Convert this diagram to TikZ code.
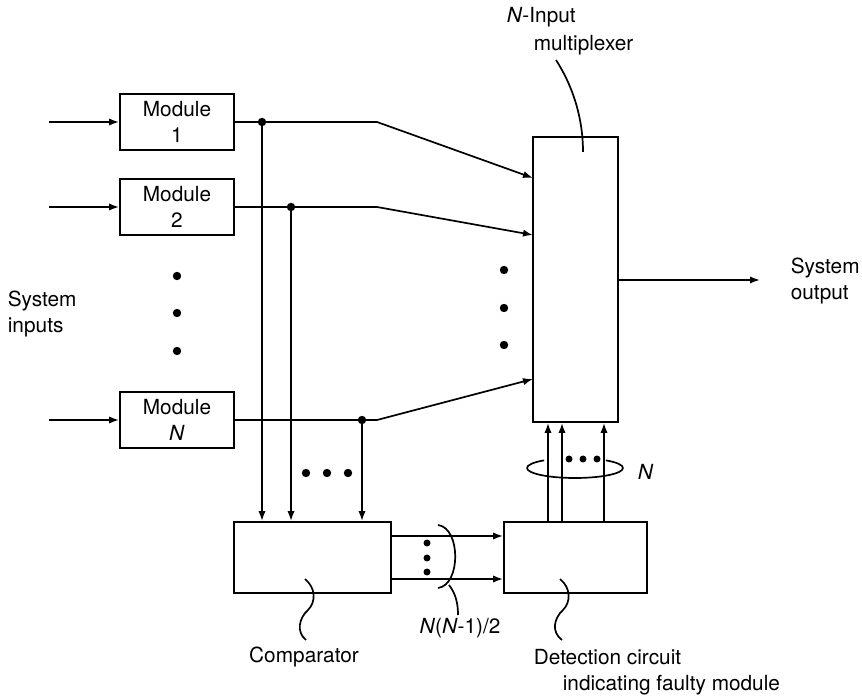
\documentclass[tikz,border=0pt]{standalone}
\usepackage{fontspec}
\setmainfont{TeX Gyre Heros}
\usetikzlibrary{arrows.meta}
\begin{document}
\begin{tikzpicture}[x=0.5pt,y=-0.5pt, line width=0.85pt,
  font=\fontsize{10.4}{13}\selectfont,
  box/.style={draw, inner sep=0pt, align=center},
  modbox/.style={box, minimum width=57pt, minimum height=28pt},
  arr/.style={-{Latex[length=5pt,width=3.6pt]}},
  bigdot/.style={circle, fill, inner sep=0pt, minimum size=4.2pt},
  smalldot/.style={circle, fill, inner sep=0pt, minimum size=3.5pt},
  lbl/.style={inner sep=0pt, align=left}]
\useasboundingbox (0,0) rectangle (862,699);

% modules
\node[modbox] (m1) at (177,122) {Module\\1};
\node[modbox] (m2) at (177,207) {Module\\2};
\node[modbox] (mN) at (177,420) {Module\\\textit{N}};

% multiplexer, comparator, detection
\node[box, minimum width=42.5pt, minimum height=142.5pt] (mux) at (575.5,279.5) {};
\node[box, minimum width=78.5pt, minimum height=35.5pt] (comp) at (312.5,557.5) {};
\node[box, minimum width=71.5pt, minimum height=35.5pt] (det) at (575.5,557.5) {};

% coordinates
\coordinate (in1) at (49,122);
\coordinate (in2) at (49,207);
\coordinate (inN) at (49,420);
\coordinate (j1) at (262,122);
\coordinate (j2) at (291,207);
\coordinate (jN) at (362,420);
\coordinate (b1) at (377,122);
\coordinate (b2) at (377,207);
\coordinate (bN) at (377,420);
\coordinate (x1) at (533,178);
\coordinate (x2) at (533,235);
\coordinate (xN) at (533,379);
\coordinate (outE) at (760,280);
\coordinate (c1) at (391,536);
\coordinate (c2) at (391,579);
\coordinate (u1) at (548,522);
\coordinate (u2) at (562,522);
\coordinate (u3) at (604,522);

% inputs
\draw[arr] (in1) -- (m1);
\draw[arr] (in2) -- (m2);
\draw[arr] (inN) -- (mN);

% module outputs to multiplexer
\draw[arr] (m1.east) -- (b1) -- (x1);
\draw[arr] (m2.east) -- (b2) -- (x2);
\draw[arr] (mN.east) -- (bN) -- (xN);

% taps to comparator
\draw[arr] (j1) -- (j1 |- comp.north);
\draw[arr] (j2) -- (j2 |- comp.north);
\draw[arr] (jN) -- (jN |- comp.north);
\node[bigdot] at (j1) {};
\node[bigdot] at (j2) {};
\node[bigdot] at (jN) {};

% output
\draw[arr] (mux.east |- outE) -- (outE);

% comparator to detection
\draw[arr] (c1) -- (c1 -| det.west);
\draw[arr] (c2) -- (c2 -| det.west);

% detection to multiplexer
\draw[arr] (u1) -- (u1 |- mux.south);
\draw[arr] (u2) -- (u2 |- mux.south);
\draw[arr] (u3) -- (u3 |- mux.south);

% loop around N lines
\draw (527,468) arc[start angle=180, end angle=360, x radius=24pt, y radius=5pt];
\draw (527,468) arc[start angle=180, end angle=130, x radius=24pt, y radius=5pt];
\draw (623,468) arc[start angle=0, end angle=50, x radius=24pt, y radius=5pt];

% bracket for comparator outputs
\coordinate (bt) at (438,525);
\coordinate (bb) at (438,588);
\coordinate (ts) at (449,585);
\coordinate (te) at (458,615);
\draw (bt) .. controls (461,528) and (461,585) .. (bb);
\draw (ts) .. controls (456,594) and (458,604) .. (te);

% wavy leaders
\coordinate (w1s) at (305,579);
\coordinate (w1m) at (308,610);
\coordinate (w1e) at (306,640);
\draw (w1s) .. controls (316,588) and (316,602) .. (w1m) .. controls (299,618) and (296,632) .. (w1e);
\coordinate (w2s) at (560,579);
\coordinate (w2m) at (563,610);
\coordinate (w2e) at (562,640);
\draw (w2s) .. controls (571,588) and (571,602) .. (w2m) .. controls (554,618) and (551,632) .. (w2e);

% multiplexer leader
\coordinate (ms) at (556,60);
\coordinate (me) at (583,152);
\draw (ms) .. controls (574,88) and (583,120) .. (me);

% dots
\foreach \y in {276,313,351} \node[bigdot] at (177,\y) {};
\foreach \y in {270,308,345} \node[bigdot] at (504,\y) {};
\foreach \x in {306,327,348} \node[bigdot] at (\x,473) {};
\foreach \y in {543,558,572} \node[smalldot] at (427,\y) {};
\foreach \x in {569,583,597} \node[smalldot] at (\x,459) {};

% labels
\node[lbl, anchor=west] (sysin) at (7,314.5) {System\\inputs};
\node[lbl, anchor=west] (sysout) at (790,281) {System\\output};
\node[lbl, anchor=west] (muxl1) at (506,17) {\textit{N}-Input};
\node[lbl, anchor=west] (muxl2) at (533,45) {multiplexer};
\node[lbl, anchor=west] (nl) at (637,472) {\textit{N}};
\node[lbl] (compl) at (304,657) {Comparator};
\node[lbl] (nnl) at (460,628) {\textit{N}(\textit{N}-1)/2};
\node[lbl, anchor=west] (detl1) at (533,657) {Detection circuit};
\node[lbl, anchor=west] (detl2) at (562,685) {indicating faulty module};

\end{tikzpicture}
\end{document}
